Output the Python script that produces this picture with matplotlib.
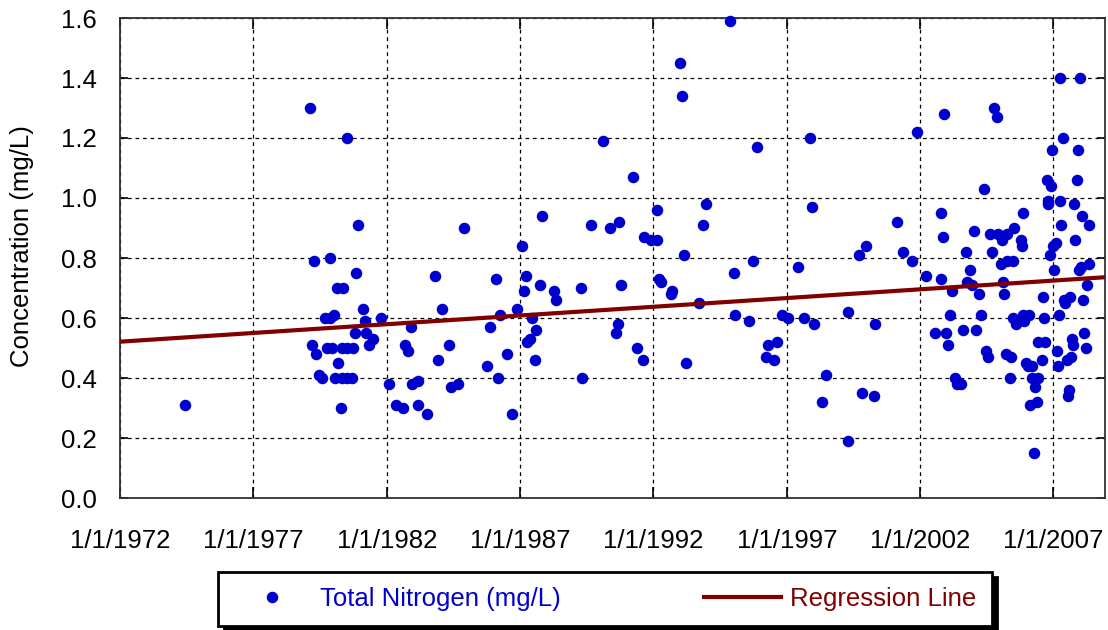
import datetime as dt
import matplotlib
matplotlib.use("Agg")
import matplotlib.pyplot as plt
import matplotlib.dates as mdates
from matplotlib.ticker import FuncFormatter, MultipleLocator

plt.rcParams['font.family'] = ['Liberation Sans', 'DejaVu Sans']

# sample dates as decimal years, total nitrogen in mg/L
sample_year = [
    1974.44,
    1979.12, 1979.27, 1979.86, 1980.84, 1980.13, 1980.35, 1981.12, 1979.69, 1979.87, 1980.02,
    1981.18, 1981.78, 1980.81, 1981.22, 1981.49, 1981.34, 1982.90, 1982.70, 1982.81, 1979.19,
    1979.35, 1979.75, 1979.94, 1980.31, 1980.50, 1980.72, 1980.17, 1979.45, 1979.59, 1980.06,
    1980.31, 1980.50, 1980.69, 1982.09, 1982.96, 1983.18, 1980.27, 1982.35, 1982.60, 1983.18,
    1980.51, 1980.92,
    1983.50, 1983.82, 1983.91, 1984.07, 1984.32, 1984.40, 1984.67, 1984.89, 1985.77, 1985.86,
    1986.09, 1986.17, 1986.26, 1986.50, 1986.70, 1986.90, 1987.07, 1987.14, 1987.22, 1987.26,
    1987.36, 1987.45, 1987.56, 1987.59, 1987.75, 1987.81, 1988.27, 1988.35,
    1989.29, 1989.33, 1989.67, 1990.10, 1990.36, 1990.59, 1990.66, 1990.70, 1990.77, 1991.22,
    1991.37, 1991.60, 1991.63, 1991.90, 1992.13, 1992.15, 1992.22, 1992.27,
    1992.69, 1992.66, 1993.01, 1993.08, 1993.14, 1993.23, 1993.71, 1993.86, 1993.96, 1994.87,
    1995.02, 1995.06, 1995.57, 1995.73, 1995.90,
    1996.21, 1996.30, 1996.51, 1996.65, 1996.81, 1997.03, 1997.41, 1997.63, 1997.87, 1997.96,
    1998.03, 1998.31, 1998.48, 1999.28, 1999.31, 1999.72, 1999.81, 1999.97, 2000.27, 2000.31,
    2001.12,
    2001.37, 2001.71, 2001.87, 2002.22, 2002.55, 2002.78, 2002.80, 2002.85, 2002.88, 2002.97,
    2003.05, 2003.11, 2003.20, 2003.31, 2003.37, 2003.52, 2003.60, 2003.71, 2003.77, 2003.86,
    2003.96, 2004.02, 2004.10, 2004.20, 2004.27, 2004.38, 2004.46, 2004.53, 2004.62, 2004.71,
    2004.77, 2004.87, 2004.93,
    2005.04, 2005.08, 2005.12, 2005.14, 2005.20, 2005.25, 2005.26, 2005.35, 2005.40, 2005.47,
    2005.49, 2005.51, 2005.60, 2005.78, 2005.82, 2005.86, 2005.87, 2005.90, 2005.97, 2006.05,
    2006.07, 2006.12, 2006.18, 2006.19, 2006.26, 2006.30, 2006.37, 2006.41, 2006.43, 2006.57,
    2006.61, 2006.64, 2006.68, 2006.75, 2006.80, 2006.81, 2006.87, 2006.90, 2006.93, 2006.99,
    2007.03, 2007.08, 2007.12, 2007.16, 2007.21, 2007.23, 2007.26, 2007.29, 2007.36, 2007.39,
    2007.43, 2007.50, 2007.53, 2007.57, 2007.62, 2007.66, 2007.71, 2007.74, 2007.78, 2007.82,
    2007.87, 2007.91, 2007.94, 2007.98, 2008.02, 2008.07, 2008.11, 2008.15, 2008.21, 2008.27,
    2008.32, 2008.34,
]
tn_mgL = [
    0.31,
    1.30, 0.79, 0.80, 0.75, 0.70, 0.70, 0.63, 0.60, 0.60, 0.61,
    0.59, 0.60, 0.55, 0.55, 0.53, 0.51, 0.57, 0.51, 0.49, 0.51,
    0.48, 0.50, 0.50, 0.50, 0.50, 0.50, 0.45, 0.41, 0.40, 0.40,
    0.40, 0.40, 0.40, 0.38, 0.38, 0.39, 0.30, 0.31, 0.30, 0.31,
    1.20, 0.91,
    0.28, 0.74, 0.46, 0.63, 0.51, 0.37, 0.38, 0.90, 0.44, 0.57,
    0.73, 0.40, 0.61, 0.48, 0.28, 0.63, 0.84, 0.69, 0.74, 0.52,
    0.53, 0.60, 0.46, 0.56, 0.71, 0.94, 0.69, 0.66,
    0.70, 0.40, 0.91, 1.19, 0.90, 0.55, 0.58, 0.92, 0.71, 1.07,
    0.50, 0.46, 0.87, 0.86, 0.86, 0.96, 0.73, 0.72,
    0.69, 0.68, 1.45, 1.34, 0.81, 0.45, 0.65, 0.91, 0.98, 1.59,
    0.75, 0.61, 0.59, 0.79, 1.17,
    0.47, 0.51, 0.46, 0.52, 0.61, 0.60, 0.77, 0.60, 1.20, 0.97,
    0.58, 0.32, 0.41, 0.62, 0.19, 0.81, 0.35, 0.84, 0.34, 0.58,
    0.92,
    0.82, 0.79, 1.22, 0.74, 0.55, 0.95, 0.73, 0.87, 1.28, 0.55,
    0.51, 0.61, 0.69, 0.40, 0.38, 0.38, 0.56, 0.82, 0.72, 0.76,
    0.71, 0.89, 0.56, 0.68, 0.61, 1.03, 0.49, 0.47, 0.88, 0.82,
    1.30, 1.27, 0.88,
    0.78, 0.86, 0.72, 0.68, 0.48, 0.88, 0.79, 0.40, 0.47, 0.79,
    0.60, 0.90, 0.58, 0.86, 0.84, 0.95, 0.61, 0.59, 0.45, 0.44,
    0.61, 0.31, 0.44, 0.40, 0.15, 0.37, 0.32, 0.40, 0.52, 0.46,
    0.67, 0.60, 0.52, 1.06, 0.99, 0.98, 0.81, 1.04, 1.16, 0.84,
    0.76, 0.85, 0.49, 0.44, 0.61, 0.99, 1.40, 0.91, 1.20, 0.66,
    0.65, 0.46, 0.34, 0.36, 0.67, 0.47, 0.53, 0.51, 0.98, 0.86,
    1.06, 1.16, 0.76, 1.40, 0.77, 0.94, 0.66, 0.55, 0.50, 0.71,
    0.91, 0.78,
]

# fitted trend: value at 1/1/1972 and change per year
fit_intercept = 0.521
fit_slope = 0.00582
x_start = 1972.0
x_end = 2008.93

tick_years = [1972, 1977, 1982, 1987, 1992, 1997, 2002, 2007]


def to_date(y):
    yr = int(y)
    start = dt.datetime(yr, 1, 1)
    days = (dt.datetime(yr + 1, 1, 1) - start).days
    return start + dt.timedelta(days=(y - yr) * days)


dates = [to_date(y) for y in sample_year]
line_x = [to_date(x_start), to_date(x_end)]
line_y = [fit_intercept, fit_intercept + fit_slope * (x_end - x_start)]

fig = plt.figure(figsize=(11.08, 6.30), dpi=100)
ax = fig.add_axes([120 / 1108, 132 / 630, 985 / 1108, 480 / 630])

pts, = ax.plot(dates, tn_mgL, 'o', color='#0000cc', markersize=8.3, markeredgewidth=0,
               label='Total Nitrogen (mg/L)', zorder=3, clip_on=False)
reg, = ax.plot(line_x, line_y, '-', color='#800000', linewidth=3.0,
               label='Regression Line', zorder=4)

ax.set_xlim(line_x[0], line_x[1])
ax.set_ylim(0, 1.6)
ax.yaxis.set_major_locator(MultipleLocator(0.2))
ax.yaxis.set_major_formatter(FuncFormatter(lambda v, p: f"{v:.1f}"))
ax.set_xticks([dt.datetime(y, 1, 1) for y in tick_years])
ax.xaxis.set_major_formatter(FuncFormatter(
    lambda v, p: (lambda d: f"{d.month}/{d.day}/{d.year}")(mdates.num2date(v))))

ax.grid(True, color='black', linestyle=(0, (3, 3)), linewidth=0.9)
ax.tick_params(axis='both', direction='in', labelsize=18.5, colors='black',
               top=True, right=True, width=1.2)
ax.tick_params(axis='y', length=6, pad=17)
ax.tick_params(axis='x', length=8, pad=22)
for s in ax.spines.values():
    s.set_color('#333333')
    s.set_linewidth(1.3)

ax.set_ylabel('Concentration (mg/L)', fontsize=18.5)
ax.yaxis.set_label_coords(-0.087, 0.525)

leg = fig.legend(handles=[pts, reg], loc='center', bbox_to_anchor=(605 / 1108, 31 / 630),
                 ncol=2, fontsize=18.5, frameon=True, fancybox=False,
                 handlelength=3.0, handletextpad=0.35, columnspacing=5.6,
                 borderpad=0.6, borderaxespad=0,
                 shadow={'ox': 4, 'oy': -4, 'facecolor': 'black', 'edgecolor': 'black', 'alpha': 1})
leg.get_frame().set_edgecolor('black')
leg.get_frame().set_linewidth(2.0)
for txt, c in zip(leg.get_texts(), ['#0000cc', '#800000']):
    txt.set_color(c)

fig.savefig('out.png', dpi=100)
